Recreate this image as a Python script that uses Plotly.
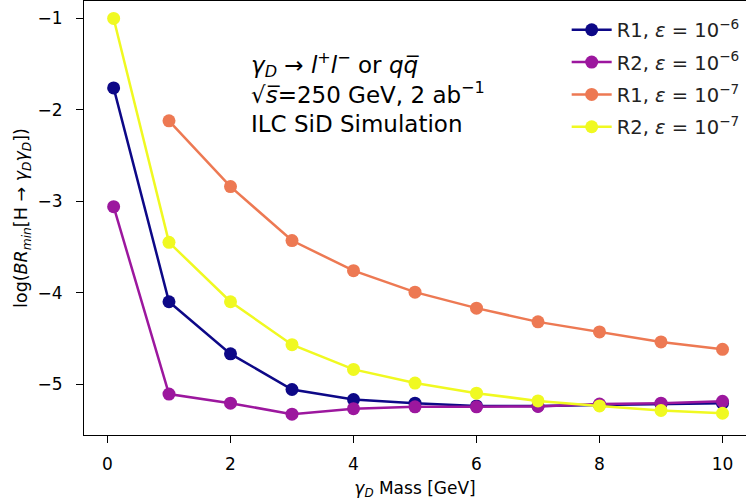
import plotly.graph_objects as go

mass = [0.1, 1, 2, 3, 4, 5, 6, 7, 8, 9, 10]
mass_r1e7 = [1, 2, 3, 4, 5, 6, 7, 8, 9, 10]

r1_e6 = [-1.76, -4.10, -4.67, -5.06, -5.17, -5.21, -5.24, -5.24, -5.23, -5.22, -5.21]
r2_e6 = [-3.06, -5.11, -5.21, -5.33, -5.27, -5.25, -5.25, -5.245, -5.22, -5.21, -5.19]
r1_e7 = [-2.12, -2.84, -3.43, -3.76, -3.995, -4.17, -4.32, -4.43, -4.54, -4.62]
r2_e7 = [-1.00, -3.45, -4.10, -4.57, -4.84, -4.99, -5.10, -5.185, -5.24, -5.29, -5.32]

names = ["R1, <i>ε</i> = 10<sup>−6</sup>", "R2, <i>ε</i> = 10<sup>−6</sup>",
         "R1, <i>ε</i> = 10<sup>−7</sup>", "R2, <i>ε</i> = 10<sup>−7</sup>"]
colors = ["#0d0887", "#9c179e", "#ed7953", "#f0f921"]

xticks = [0, 2, 4, 6, 8, 10]
yticks = [-1, -2, -3, -4, -5]
yticktext = ["−1", "−2", "−3", "−4", "−5"]

FONT = "DejaVu Sans"

fig = go.Figure()
series = [(mass, r1_e6), (mass, r2_e6), (mass_r1e7, r1_e7), (mass, r2_e7)]
for i, ((xs, ys), nm, c) in enumerate(zip(series, names, colors)):
    fig.add_trace(go.Scatter(
        x=xs, y=ys, mode="lines+markers", name=nm,
        line=dict(color=c, width=2.5),
        marker=dict(color=c, size=13),
        legendgroup=f"g{i}",
    ))

fig.update_layout(
    width=746, height=502,
    margin=dict(l=84, r=0, t=1, b=67),
    paper_bgcolor="white", plot_bgcolor="white",
    font=dict(family=FONT, color="black", size=17),
    showlegend=True,
    legend=dict(
        x=0.998, y=0.978, xanchor="right", yanchor="top",
        font=dict(family=FONT, size=19.5, color="#222"),
        bgcolor="rgba(255,255,255,0)",
        tracegroupgap=4,
        itemwidth=40,
    ),
    xaxis=dict(
        range=[-0.382, 10.382],
        tickvals=xticks, ticktext=[str(v) for v in xticks],
        ticks="outside", ticklen=7, tickwidth=1, tickcolor="black",
        ticklabelstandoff=7,
        showgrid=False, zeroline=False,
        showline=True, linecolor="black", linewidth=1, mirror=True,
        tickfont=dict(family=FONT, size=17, color="black"),
        title=dict(text="<i>γ</i><sub><i>D</i></sub> Mass [GeV]",
                   font=dict(family=FONT, size=17, color="black"), standoff=8),
    ),
    yaxis=dict(
        range=[-5.558, -0.809],
        tickvals=yticks, ticktext=yticktext,
        ticks="outside", ticklen=7, tickwidth=1, tickcolor="black",
        ticklabelstandoff=10,
        showgrid=False, zeroline=False,
        showline=True, linecolor="black", linewidth=1, mirror=False,
        tickfont=dict(family=FONT, size=17, color="black"),
        title=dict(text="log(<i>BR</i><sub><i>min</i></sub>[H → <i>γ</i><sub><i>D</i></sub><i>γ</i><sub><i>D</i></sub>])",
                   font=dict(family=FONT, size=17.5, color="black"), standoff=5),
    ),
)

ann_text = ("<i>γ</i><sub><i>D</i></sub> → <i>l</i><sup>+</sup><i>l</i><sup>−</sup> or <i>q</i><i>q̅</i>"
            "<br>√<i>s̅</i>=250 GeV, 2 ab<sup>−1</sup>"
            "<br>ILC SiD Simulation")
fig.add_annotation(
    text=ann_text, xref="paper", yref="paper",
    x=(249 - 84) / (746 - 84), y=1 - (93 - 1) / (435 - 1),
    xanchor="left", yanchor="middle", showarrow=False, align="left",
    font=dict(family=FONT, size=23, color="black"),
)

fig.write_html("out.html")
